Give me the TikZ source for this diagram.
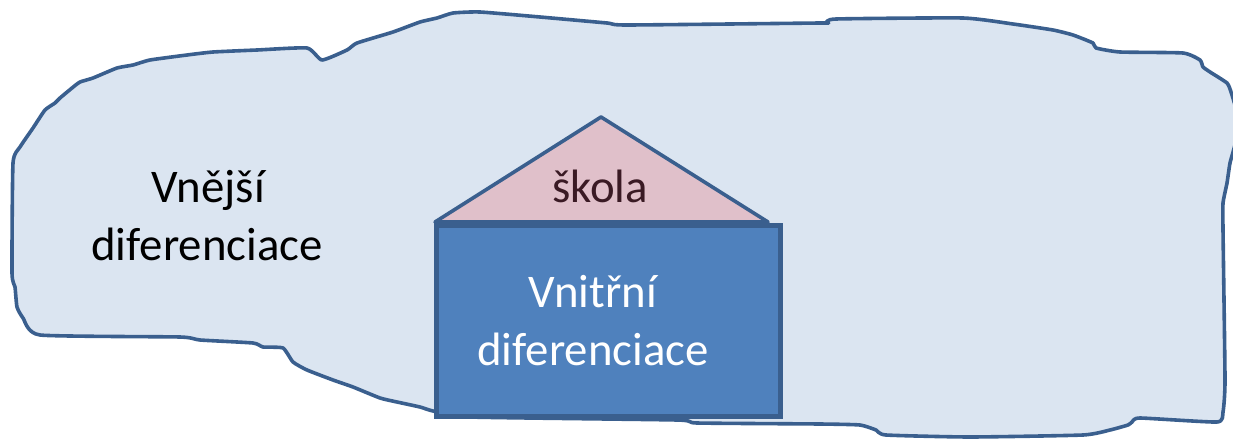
\documentclass[tikz,border=0pt]{standalone}
\usepackage{fontspec}
\setmainfont{Carlito}
\definecolor{blobfill}{HTML}{DBE5F1}
\definecolor{blobline}{HTML}{3A5F8E}
\definecolor{boxfill}{HTML}{4F81BD}
\definecolor{roofpink}{HTML}{E0C0CA}
\definecolor{roottext}{HTML}{3A1A24}
\tikzset{
  lbl/.style={anchor=base, inner sep=0pt, font=\fontsize{46.8}{58}\selectfont},
}
\begin{document}
\begin{tikzpicture}[x=1pt,y=-1pt]
\useasboundingbox (0,0) rectangle (1233,439);
% outer freeform region
\draw[fill=blobfill, draw=blobline, line width=3.6pt, line join=round]
  plot[smooth cycle, tension=0.3] coordinates {
  (13,163) (20,147) (33,128) (45,110) (55,103) (60,98) (72,88) (80,82) (93,78)
  (117,68) (133,65) (150,60) (187,55) (213,52) (257,50) (307,48) (322,60)
  (347,50) (357,43) (393,32) (420,22) (437,18) (453,13) (480,12) (540,17)
  (607,23) (627,25) (820,23) (826,23) (836,19) (963,18) (1013,24) (1053,30)
  (1073,35) (1093,43) (1096,48) (1120,52) (1183,53) (1200,60) (1203,67)
  (1210,72) (1227,83) (1231,92) (1236,110) (1236,140) (1230,163) (1227,183)
  (1223,203) (1223,230) (1225,380) (1223,412) (1217,422) (1140,418)
  (1132,422) (1128,425) (1110,430) (1083,435) (970,437) (886,435) (876,430)
  (860,425) (820,424) (697,423) (677,420) (470,417) (433,411) (420,407)
  (397,402) (380,398) (353,387) (333,380) (307,370) (293,362) (283,348)
  (263,347) (253,343) (200,340) (180,337) (40,335) (23,318) (17,307)
  (15,287) (12,273)};
% roof
\coordinate (apex) at (601,117);
\coordinate (roofL) at (435,222);
\coordinate (roofR) at (768,222);
\draw[fill=roofpink, draw=blobline, line width=3.6pt, line join=round]
  (roofL) -- (apex) -- (roofR) -- cycle;
% building
\node[draw=blobline, fill=boxfill, line width=4.5pt, inner sep=0pt,
      minimum width=344pt, minimum height=191pt, anchor=north west]
  (house) at (434,223) {};
% labels
\node[lbl] (ext1) at (208,202) {Vnější};
\node[lbl] (ext2) at (207,260) {diferenciace};
\node[lbl, text=roottext] (school) at (600,202) {škola};
\node[lbl, text=white] (int1) at (593,307) {Vnitřní};
\node[lbl, text=white] (int2) at (593,365) {diferenciace};
\end{tikzpicture}
\end{document}
